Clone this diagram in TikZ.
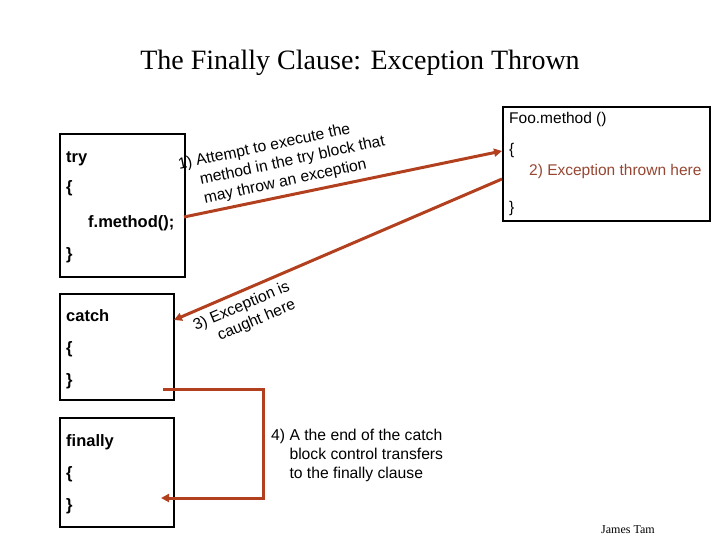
\documentclass[tikz,border=0pt]{standalone}
\usepackage{fontspec}
\setmainfont{Liberation Serif}
\newfontfamily\arial{Liberation Sans}
\usetikzlibrary{arrows.meta}
\definecolor{rust}{RGB}{178,64,30}
\definecolor{rusttext}{RGB}{150,70,50}
\tikzset{
  box/.style={draw=black, line width=1.6pt, anchor=north west, inner sep=0pt},
  code/.style={font=\arial\bfseries\fontsize{16.5}{19}\selectfont, anchor=base west, inner sep=0pt},
  plain/.style={font=\arial\fontsize{15.5}{18}\selectfont, anchor=base west, inner sep=0pt},
  note/.style={font=\arial\fontsize{15.7}{19}\selectfont, anchor=base west, inner sep=0pt, align=left},
  arr/.style={draw=rust, line width=3pt, -{Triangle[length=8pt,width=8pt]}},
}
\begin{document}
\begin{tikzpicture}[x=1pt,y=-1pt]
\useasboundingbox (0,0) rectangle (720,540);
% title
\node[font=\fontsize{28}{32}\selectfont, anchor=base, inner sep=0pt] (title) at (360,70) {The Finally Clause: Exception Thrown};
% boxes
\node[box, minimum width=125pt, minimum height=143pt] (trybox) at (59,133) {};
\node[box, minimum width=114pt, minimum height=106pt] (catchbox) at (59,293) {};
\node[box, minimum width=114pt, minimum height=109pt] (finbox) at (59,417) {};
\node[box, minimum width=207pt, minimum height=114pt] (foobox) at (502,106) {};
% try text
\node[code] (try) at (66,163) {try};
\node[code] (tryo) at (66,193) {\{};
\node[code] (fm) at (88,227) {f.method();};
\node[code] (tryc) at (66,259) {\}};
% catch text
\node[code] (catch) at (66,321) {catch};
\node[code] (catcho) at (66,353) {\{};
\node[code] (catchc) at (66,385) {\}};
% finally text
\node[code] (fin) at (66,446) {finally};
\node[code] (fino) at (66,478) {\{};
\node[code] (finc) at (66,510) {\}};
% foo text
\node[plain] (foo) at (509,124) {Foo.method ()};
\node[plain] (fooo) at (509,155) {\{};
\node[plain, text=rusttext] (thrown) at (529,176) {2) Exception thrown here};
\node[plain] (fooc) at (509,212) {\}};
% notes (anchor = baseline of last line)
\node[note, rotate=12] (n1) at (187,207) {1) Attempt to execute the\\\hphantom{1) }method in the try block that\\\hphantom{1) }may throw an exception};
\node[note, rotate=23] (n3) at (203,348) {3) Exception is\\\hphantom{3) }caught here};
\node[note] (n4) at (271,478) {4) A the end of the catch\\\hphantom{4) }block control transfers\\\hphantom{4) }to the finally clause};
\node[font=\fontsize{12}{14}\selectfont, anchor=base west, inner sep=0pt] (author) at (601,533) {James Tam};
% connector points
\coordinate (a1s) at (184,217);
\coordinate (a1e) at (502,151);
\coordinate (a2s) at (502,179);
\coordinate (a2e) at (174,320);
\coordinate (a3s) at (163,389);
\coordinate (a3e) at (161,498);
\draw[arr] (a1s) -- (a1e);
\draw[arr] (a2s) -- (a2e);
\draw[arr] (a3s) -- ++(100,0) |- (a3e);
\end{tikzpicture}
\end{document}
